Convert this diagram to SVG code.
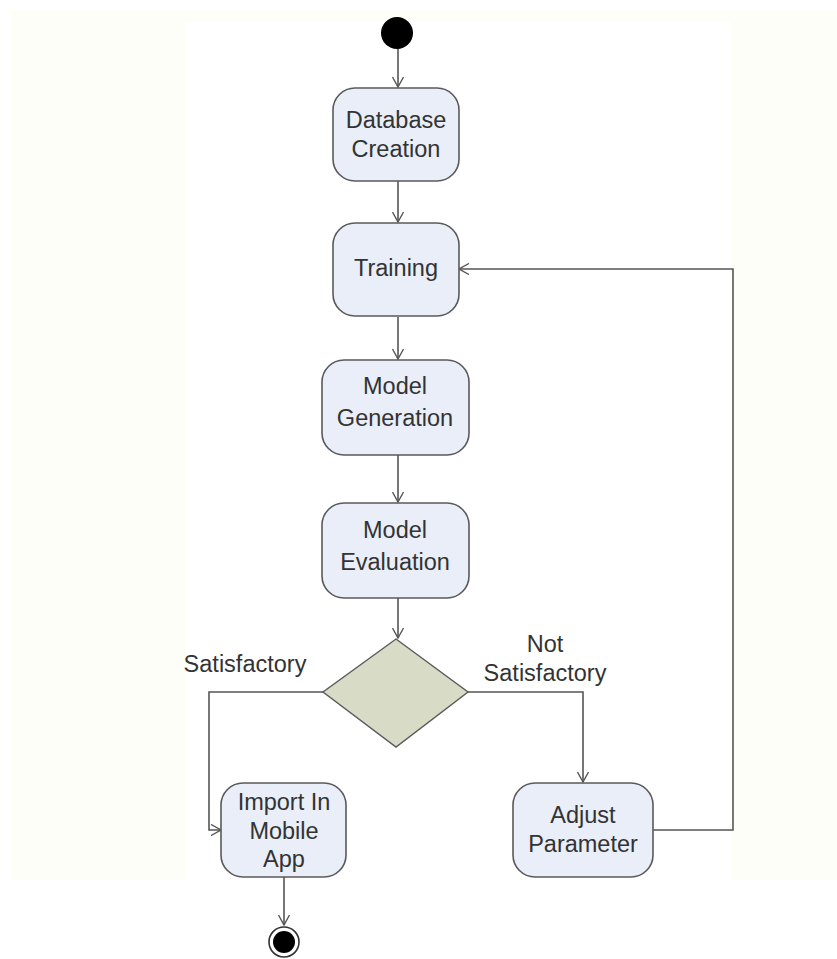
<svg xmlns="http://www.w3.org/2000/svg" width="837" height="959" viewBox="0 0 837 959">
  <style>
    .act { fill: #e9eef8; stroke: #5a5a5a; stroke-width: 1.6; }
    .dec { fill: #d8dbc6; stroke: #5a5a5a; stroke-width: 1.4; }
    .lbl { font-family: "Liberation Sans", Arial, sans-serif; font-size: 23.5px; fill: #333333; text-anchor: middle; }
    .edge { fill: none; stroke: #555555; stroke-width: 1.6; }
  </style>
  <defs>
    <marker id="open" viewBox="0 0 12 12" refX="11" refY="6" markerWidth="12" markerHeight="12" markerUnits="userSpaceOnUse" orient="auto">
      <path d="M1,0.5 L11,6 L1,11.5" fill="none" stroke="#555555" stroke-width="1.4"/>
    </marker>
  </defs>

  <!-- page background -->
  <rect x="0" y="0" width="837" height="959" fill="#ffffff"/>
  <rect x="10" y="10" width="827" height="870" fill="#fefef8"/>
  <rect x="185" y="22" width="545" height="937" fill="#ffffff"/>

  <!-- connectors -->
  <g id="connectors">
    <path class="edge" d="M398,48 V87" marker-end="url(#open)"/>
    <path class="edge" d="M398,181 V222" marker-end="url(#open)"/>
    <path class="edge" d="M398,317 V359" marker-end="url(#open)"/>
    <path class="edge" d="M398,455 V502" marker-end="url(#open)"/>
    <path class="edge" d="M398,598 V638" marker-end="url(#open)"/>
    <path class="edge" d="M323,692 H209 V830 H221" marker-end="url(#open)"/>
    <path class="edge" d="M468,692 H583 V782" marker-end="url(#open)"/>
    <path class="edge" d="M653,830 H733 V269 H459" marker-end="url(#open)"/>
    <path class="edge" d="M284,877 V925" marker-end="url(#open)"/>
  </g>

  <!-- start -->
  <g id="start">
    <circle cx="397" cy="33" r="16" fill="#000000"/>
  </g>

  <g id="database-creation">
    <rect class="act" x="333" y="88" width="126" height="93" rx="22" ry="22"/>
    <text class="lbl" x="396" y="128">Database</text>
    <text class="lbl" x="396" y="157">Creation</text>
  </g>

  <g id="training">
    <rect class="act" x="333" y="223" width="126" height="93" rx="22" ry="22"/>
    <text class="lbl" x="396" y="276">Training</text>
  </g>

  <g id="model-generation">
    <rect class="act" x="322" y="360" width="147" height="95" rx="22" ry="22"/>
    <text class="lbl" x="395" y="394">Model</text>
    <text class="lbl" x="395" y="426">Generation</text>
  </g>

  <g id="model-evaluation">
    <rect class="act" x="322" y="503" width="147" height="95" rx="22" ry="22"/>
    <text class="lbl" x="395" y="538">Model</text>
    <text class="lbl" x="395" y="570">Evaluation</text>
  </g>

  <g id="decision">
    <polygon class="dec" points="396,639 468,692 396,747 323,692"/>
  </g>

  <g id="guard-satisfactory">
    <text class="lbl" x="245" y="672">Satisfactory</text>
  </g>
  <g id="guard-not-satisfactory">
    <text class="lbl" x="545" y="652">Not</text>
    <text class="lbl" x="545" y="681">Satisfactory</text>
  </g>

  <g id="import-in-mobile-app">
    <rect class="act" x="221" y="783" width="125" height="94" rx="22" ry="22"/>
    <text class="lbl" x="284" y="810">Import In</text>
    <text class="lbl" x="284" y="839">Mobile</text>
    <text class="lbl" x="284" y="867">App</text>
  </g>

  <g id="adjust-parameter">
    <rect class="act" x="513" y="783" width="140" height="94" rx="22" ry="22"/>
    <text class="lbl" x="583" y="823">Adjust</text>
    <text class="lbl" x="583" y="852">Parameter</text>
  </g>

  <!-- end -->
  <g id="end">
    <circle cx="284" cy="942" r="15" fill="#ffffff" stroke="#333333" stroke-width="1.6"/>
    <circle cx="284" cy="942" r="11" fill="#000000"/>
  </g>
</svg>
